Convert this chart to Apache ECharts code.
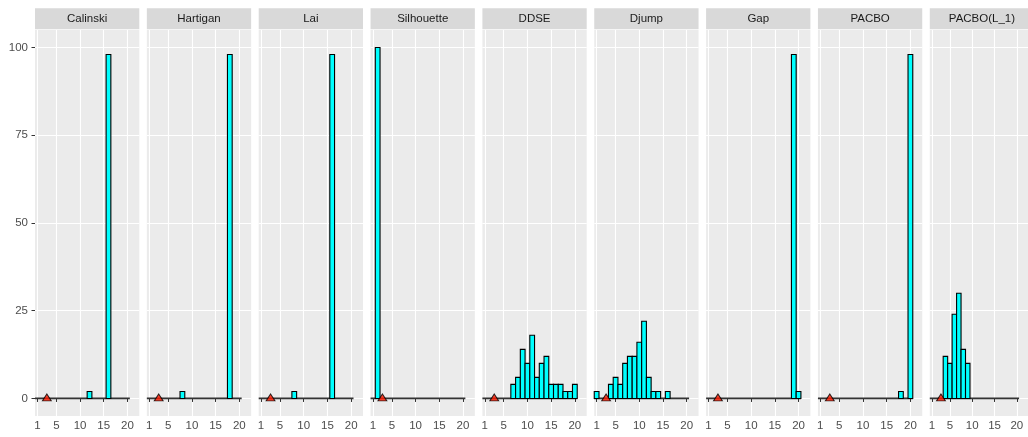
<!DOCTYPE html>
<html>
<head>
<meta charset="utf-8">
<script src="https://cdn.jsdelivr.net/npm/echarts@6/dist/echarts.min.js"></script>
<style>
  html, body { margin: 0; padding: 0; background: #ffffff; }
  #chart { width: 1028px; height: 437px; }
</style>
</head>
<body>
<div id="chart"></div>
<script>
// Facet titles, one panel per selection method
const methods = ['Calinski', 'Hartigan', 'Lai', 'Silhouette', 'DDSE', 'Djump', 'Gap', 'PACBO', 'PACBO(L_1)'];
// Candidate numbers of clusters (histogram bins)
const clusterCounts = [1, 2, 3, 4, 5, 6, 7, 8, 9, 10, 11, 12, 13, 14, 15, 16, 17, 18, 19, 20];
// Number of runs selecting each candidate, per method
const calinski   = [0, 0, 0, 0, 0, 0, 0, 0, 0, 0, 0, 2, 0, 0, 0, 98, 0, 0, 0, 0];
const hartigan   = [0, 0, 0, 0, 0, 0, 0, 2, 0, 0, 0, 0, 0, 0, 0, 0, 0, 98, 0, 0];
const lai        = [0, 0, 0, 0, 0, 0, 0, 2, 0, 0, 0, 0, 0, 0, 0, 98, 0, 0, 0, 0];
const silhouette = [0, 100, 0, 0, 0, 0, 0, 0, 0, 0, 0, 0, 0, 0, 0, 0, 0, 0, 0, 0];
const ddse       = [0, 0, 0, 0, 0, 0, 4, 6, 14, 10, 18, 6, 10, 12, 4, 4, 4, 2, 2, 4];
const djump      = [2, 0, 0, 4, 6, 4, 10, 12, 12, 16, 22, 6, 2, 2, 0, 2, 0, 0, 0, 0];
const gap        = [0, 0, 0, 0, 0, 0, 0, 0, 0, 0, 0, 0, 0, 0, 0, 0, 0, 0, 98, 2];
const pacbo      = [0, 0, 0, 0, 0, 0, 0, 0, 0, 0, 0, 0, 0, 0, 0, 0, 0, 2, 0, 98];
const pacboL1    = [0, 0, 0, 12, 10, 24, 30, 14, 10, 0, 0, 0, 0, 0, 0, 0, 0, 0, 0, 0];
// True number of clusters
const trueK = 3;
// Axis tick labels
const xTicks = [1, 5, 10, 15, 20];
const yTicks = [0, 25, 50, 75, 100];

const countsByMethod = [calinski, hartigan, lai, silhouette, ddse, djump, gap, pacbo, pacboL1];

// Panel layout (pixels)
const PANEL_LEFT = 35;
const PANEL_STEP = 111.85;
const PANEL_W = 104.3;
const PANEL_TOP = 30;
const PANEL_H = 386;
const STRIP_TOP = 8.3;
const STRIP_H = 21;

const FONT = '"Liberation Sans", Arial, Helvetica, sans-serif';

const chart = echarts.init(document.getElementById('chart'), null, { renderer: 'canvas' });

const grids = [], xAxes = [], yAxes = [], series = [], graphics = [];

methods.forEach(function (name, i) {
  const left = PANEL_LEFT + i * PANEL_STEP;
  grids.push({
    left: left, top: PANEL_TOP, width: PANEL_W, height: PANEL_H,
    show: true, backgroundColor: '#EBEBEB', borderWidth: 0, containLabel: false
  });
  xAxes.push({
    gridIndex: i, type: 'value', min: 0.5, max: 22.5,
    axisLine: { show: false },
    axisTick: { show: true, customValues: xTicks, length: 3.5, lineStyle: { color: '#333333', width: 1 } },
    axisLabel: { show: true, customValues: xTicks, color: '#4D4D4D', fontSize: 11.5, fontFamily: FONT, margin: 4 },
    splitLine: { show: true, customValues: xTicks, lineStyle: { color: '#FFFFFF', width: 1.1 } }
  });
  yAxes.push({
    gridIndex: i, type: 'value', min: -5, max: 105,
    axisLine: { show: false },
    axisTick: { show: i === 0, customValues: yTicks, length: 3.5, lineStyle: { color: '#333333', width: 1 } },
    axisLabel: { show: i === 0, customValues: yTicks, color: '#4D4D4D', fontSize: 11.5, fontFamily: FONT, margin: 7 },
    splitLine: { show: true, customValues: yTicks, lineStyle: { color: '#FFFFFF', width: 1.1 } }
  });

  const counts = countsByMethod[i];
  const barData = [];
  clusterCounts.forEach(function (k, j) {
    if (counts[j] > 0) barData.push([k, counts[j]]);
  });

  // zero-count bins drawn as the histogram baseline
  series.push({
    type: 'line', xAxisIndex: i, yAxisIndex: i,
    data: [[clusterCounts[0] - 0.5, 0], [clusterCounts[clusterCounts.length - 1] + 0.5, 0]],
    symbol: 'none', silent: true, z: 3,
    lineStyle: { color: '#333333', width: 1.8 }
  });

  // histogram bars, one bin per candidate number of clusters
  series.push({
    type: 'custom', xAxisIndex: i, yAxisIndex: i, z: 4,
    data: barData,
    renderItem: function (params, api) {
      const k = api.value(0), v = api.value(1);
      const p0 = api.coord([k - 0.5, v]);
      const p1 = api.coord([k + 0.5, 0]);
      return {
        type: 'rect',
        shape: { x: p0[0], y: p0[1], width: p1[0] - p0[0], height: p1[1] - p0[1] },
        style: { fill: '#00FFFF', stroke: '#000000', lineWidth: 1.1 }
      };
    }
  });

  // true number of clusters
  series.push({
    type: 'scatter', xAxisIndex: i, yAxisIndex: i, z: 5,
    data: [[trueK, 0]],
    symbol: 'triangle', symbolSize: [9, 7], symbolOffset: [0, -1],
    itemStyle: { color: '#FF1A00', borderColor: '#000000', borderWidth: 0.9 }
  });

  // facet strip
  graphics.push({
    type: 'rect', silent: true,
    shape: { x: left, y: STRIP_TOP, width: PANEL_W, height: STRIP_H },
    style: { fill: '#D9D9D9' }
  });
  graphics.push({
    type: 'text', silent: true,
    x: left + PANEL_W / 2, y: STRIP_TOP + STRIP_H / 2,
    style: { text: name, fill: '#1A1A1A', font: '11.5px ' + FONT, align: 'center', verticalAlign: 'middle' }
  });
});

chart.setOption({
  animation: false,
  backgroundColor: '#FFFFFF',
  grid: grids,
  xAxis: xAxes,
  yAxis: yAxes,
  series: series,
  graphic: graphics
});
</script>
</body>
</html>
